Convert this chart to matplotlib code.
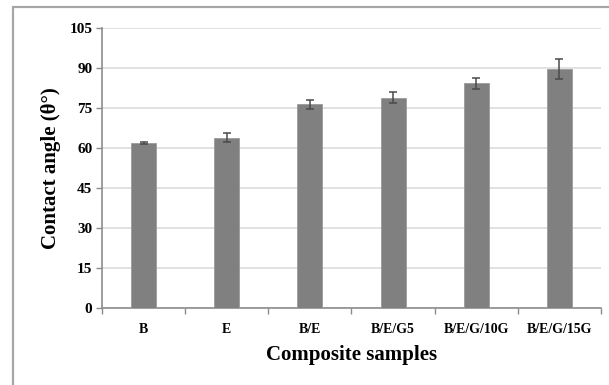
import matplotlib
matplotlib.use("Agg")
import matplotlib.pyplot as plt
import numpy as np
from matplotlib.patches import Rectangle

samples = ["B", "E", "B/E", "B/E/G5", "B/E/G/10G", "B/E/G/15G"]
angle = [61.8, 63.9, 76.4, 78.9, 84.2, 89.5]
angle_err = [0.4, 1.7, 1.6, 2.2, 2.2, 3.8]
yticks = [0, 15, 30, 45, 60, 75, 90, 105]

plt.rcParams["font.family"] = ["Liberation Serif", "DejaVu Serif"]
plt.rcParams["font.weight"] = "bold"

fig = plt.figure(figsize=(6.09, 3.85), dpi=100)
ax = fig.add_axes([102 / 609, 1 - 308 / 385, 499 / 609, 280 / 385])

# chart border (open to the right/bottom)
fig.patches.append(Rectangle((13 / 609, -0.1), 1.2, 1 - 7 / 385 + 0.1,
                             transform=fig.transFigure, fill=False,
                             ec="#a6a6a6", lw=1.6))

x = np.arange(len(samples))
ax.bar(x, angle, width=0.30, color="#808080", edgecolor="#9a9a9a", lw=0.6,
       zorder=3)
ax.errorbar(x, angle, yerr=angle_err, fmt="none", ecolor="#4a4a4a",
            elinewidth=1.1, capsize=3, capthick=1.1, zorder=4)

ax.set_xlim(-0.5, len(samples) - 0.5)
ax.set_ylim(0, 105)
ax.set_yticks(yticks)
ax.yaxis.grid(True, color="#d9d9d9", lw=1.1, zorder=0)
ax.set_axisbelow(True)

# category ticks sit between the bars
ax.set_xticks(np.arange(len(samples) + 1) - 0.5)
ax.set_xticklabels([])
ax.set_xticks(x, minor=True)
ax.set_xticklabels(samples, minor=True, fontsize=10, fontweight="bold")
ax.tick_params(axis="x", which="minor", length=0, pad=11)
ax.tick_params(axis="x", which="major", length=4, color="#8c8c8c", width=1)
ax.tick_params(axis="y", length=4, color="#8c8c8c", width=1, labelsize=11,
               pad=3)
for lab in ax.get_yticklabels():
    lab.set_fontweight("bold")

for s in ("top", "right"):
    ax.spines[s].set_visible(False)
for s in ("left", "bottom"):
    ax.spines[s].set_color("#8c8c8c")
    ax.spines[s].set_linewidth(1.2)

ax.set_xlabel("Composite samples", fontsize=15, fontweight="bold", labelpad=6)
ax.set_ylabel("Contact angle (θ°)", fontsize=15, fontweight="bold", labelpad=6)

fig.savefig("out.png", dpi=100)
